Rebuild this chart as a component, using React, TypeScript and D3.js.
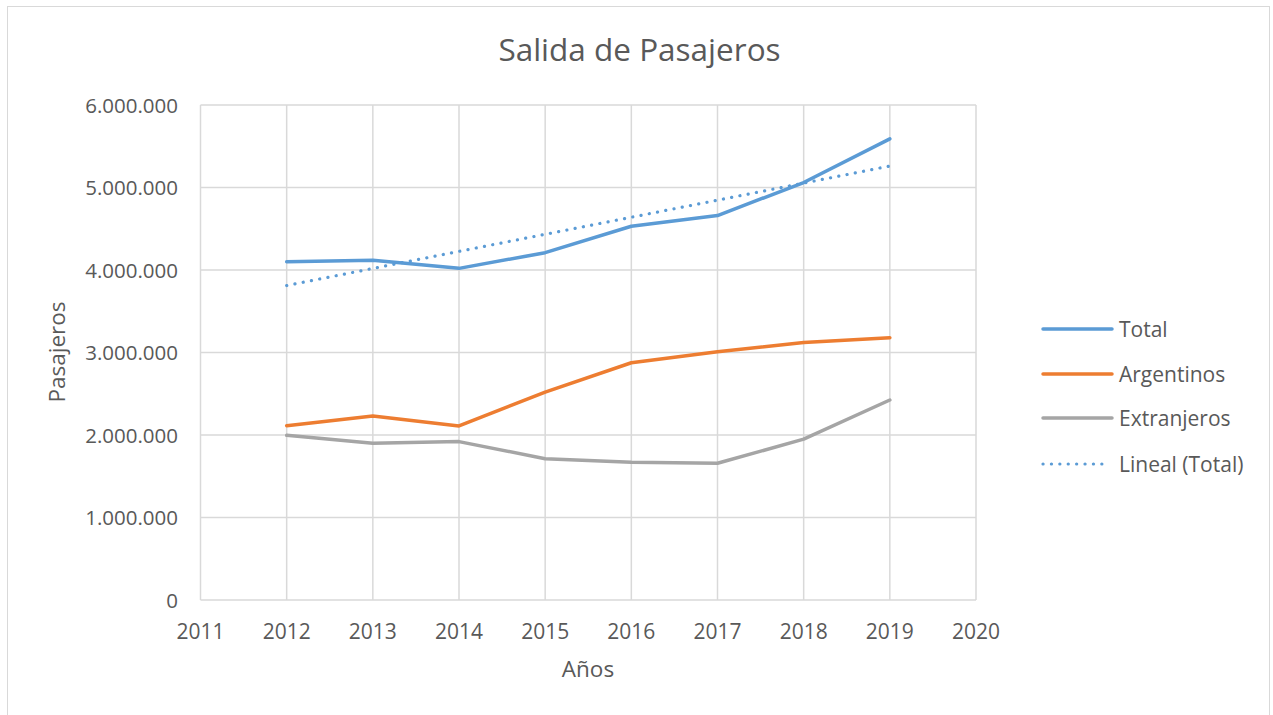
import React from "react";
import * as d3 from "d3";

const years = [2012, 2013, 2014, 2015, 2016, 2017, 2018, 2019];
const total = [4100000, 4118000, 4020000, 4210000, 4530000, 4660000, 5060000, 5590000];
const argentinos = [2113000, 2230000, 2110000, 2520000, 2876000, 3010000, 3120000, 3180000];
const extranjeros = [1996000, 1900000, 1920000, 1713000, 1670000, 1657000, 1950000, 2424000];
const xTicks = [2011, 2012, 2013, 2014, 2015, 2016, 2017, 2018, 2019, 2020];
const yTicks = [0, 1000000, 2000000, 3000000, 4000000, 5000000, 6000000];

const seriesNames = ["Total", "Argentinos", "Extranjeros"];
const seriesColors = ["#5B9BD5", "#ED7D31", "#A5A5A5"];
const trendName = "Lineal (Total)";

const FONT = "'Open Sans', sans-serif";
const TEXT = "#595959";

function fmt(v: number) {
  return v === 0 ? "0" : d3.format(",")(v).replace(/,/g, ".");
}

export default function App() {
  const left = 200.5, right = 976, top = 105, bottom = 600;
  const x = d3.scaleLinear().domain([2011, 2020]).range([left, right]);
  const y = d3.scaleLinear().domain([0, 6000000]).range([bottom, top]);

  // linear regression for trendline
  const n = years.length;
  const mx = d3.mean(years)!;
  const my = d3.mean(total)!;
  let sxy = 0, sxx = 0;
  years.forEach((yr, i) => { sxy += (yr - mx) * (total[i] - my); sxx += (yr - mx) ** 2; });
  const slope = sxy / sxx;
  const icpt = my - slope * mx;
  const trend = [years[0], years[n - 1]].map((yr) => [yr, icpt + slope * yr] as [number, number]);

  const line = d3.line<[number, number]>().x((d) => x(d[0])).y((d) => y(d[1]));
  const data = [total, argentinos, extranjeros];

  const legendY = [329, 374, 418, 464];

  return (
    <svg width={1273} height={715} style={{ position: "absolute", left: 0, top: 0, background: "#fff" }}>
      <rect x={7.5} y={6.5} width={1262} height={720} fill="#fff" stroke="#D9D9D9" strokeWidth={1} />
      <text x={639.5} y={61} textAnchor="middle" fontFamily={FONT} fontSize={31.5} fill={TEXT}>
        Salida de Pasajeros
      </text>
      {/* grid */}
      {yTicks.map((t) => (
        <line key={"gy" + t} x1={left} x2={right} y1={y(t)} y2={y(t)} stroke="#D9D9D9" strokeWidth={1.5} />
      ))}
      {xTicks.map((t) => (
        <line key={"gx" + t} x1={x(t)} x2={x(t)} y1={top} y2={bottom} stroke="#D9D9D9" strokeWidth={1.5} />
      ))}
      {/* tick labels */}
      {yTicks.map((t) => (
        <text key={"ty" + t} x={178} y={y(t) + 7.5} textAnchor="end" fontFamily={FONT} fontSize={20.5} fill={TEXT}>
          {fmt(t)}
        </text>
      ))}
      {xTicks.map((t) => (
        <text key={"tx" + t} x={x(t)} y={639} textAnchor="middle" fontFamily={FONT} fontSize={21} fill={TEXT}>
          {t}
        </text>
      ))}
      <text x={588} y={677} textAnchor="middle" fontFamily={FONT} fontSize={22.5} fill={TEXT}>Años</text>
      <text transform="translate(65,352) rotate(-90)" textAnchor="middle" fontFamily={FONT} fontSize={22.5} fill={TEXT}>
        Pasajeros
      </text>
      {/* series */}
      {data.map((vals, si) => (
        <path
          key={"s" + si}
          d={line(years.map((yr, i) => [yr, vals[i]] as [number, number]))!}
          fill="none"
          stroke={seriesColors[si]}
          strokeWidth={3.5}
          strokeLinejoin="round"
          strokeLinecap="round"
        />
      ))}
      <path d={line(trend)!} fill="none" stroke={seriesColors[0]} strokeWidth={3.2} strokeDasharray="0.1 8.3" strokeLinecap="round" />
      {/* legend */}
      {seriesNames.map((nm, i) => (
        <g key={"l" + nm}>
          <line x1={1043} x2={1112} y1={legendY[i]} y2={legendY[i]} stroke={seriesColors[i]} strokeWidth={3.5} strokeLinecap="round" />
          <text x={1119} y={legendY[i] + 7.5} fontFamily={FONT} fontSize={21} fill={TEXT}>{nm}</text>
        </g>
      ))}
      <line x1={1043} x2={1110} y1={legendY[3]} y2={legendY[3]} stroke={seriesColors[0]} strokeWidth={3.2} strokeDasharray="0.1 8.3" strokeLinecap="round" />
      <text x={1119} y={legendY[3] + 7.5} fontFamily={FONT} fontSize={21} fill={TEXT}>{trendName}</text>
    </svg>
  );
}
